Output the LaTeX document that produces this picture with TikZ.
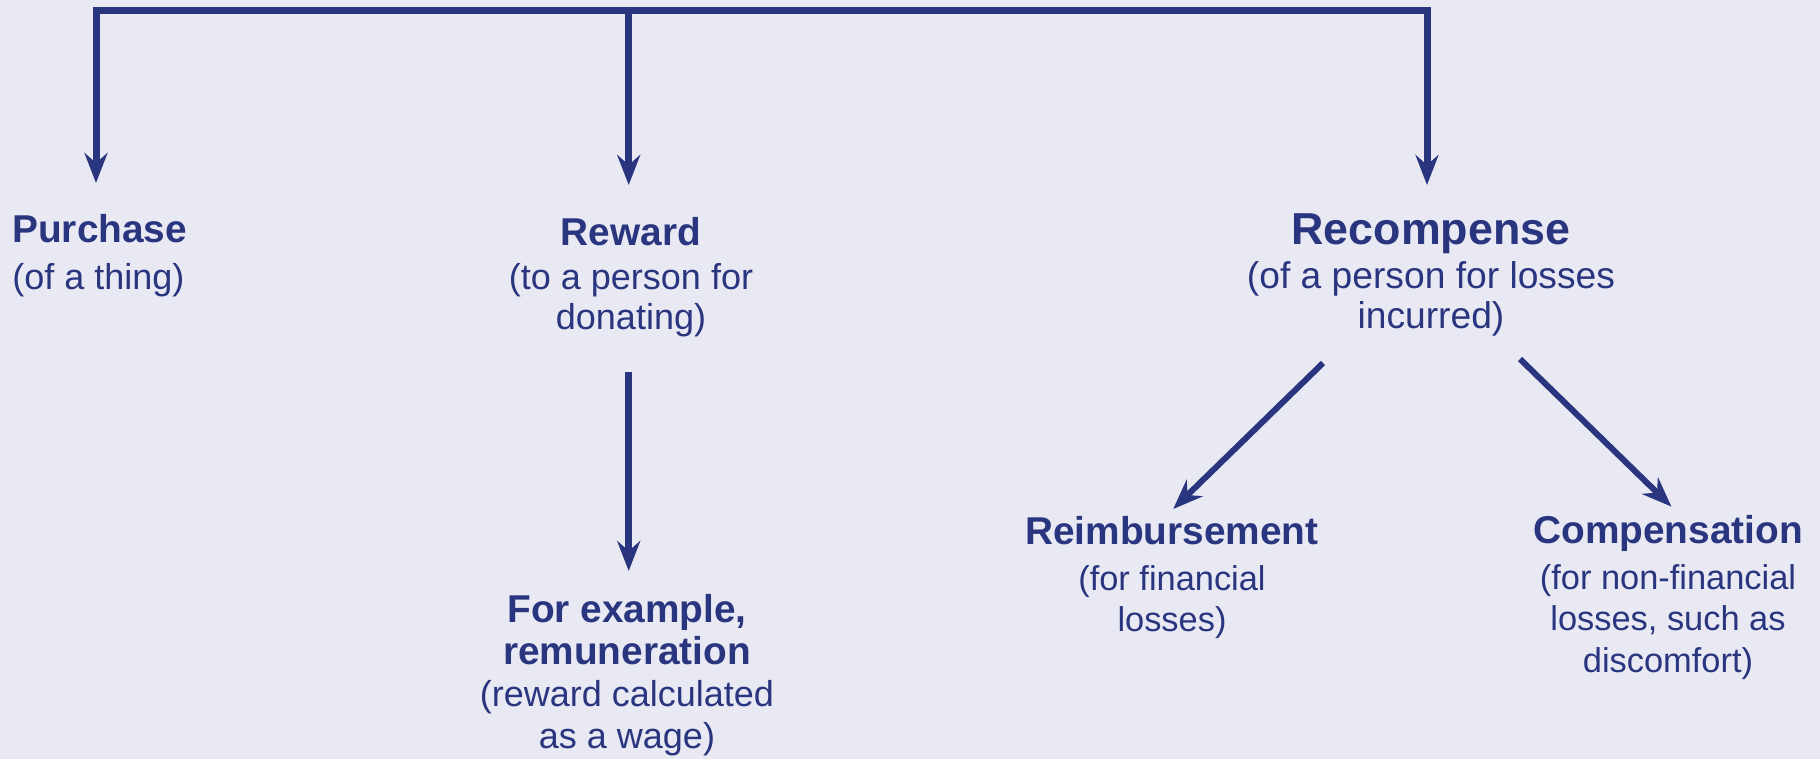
\documentclass[tikz,border=0pt]{standalone}
\usepackage{fontspec}
\setmainfont{Liberation Sans}
\usepackage{tikz}
\usetikzlibrary{arrows.meta,calc}

\definecolor{navy}{RGB}{42,53,128}
\definecolor{paper}{RGB}{232,233,242}
\newcommand{\hfont}{\bfseries\fontsize{19.4}{21}\selectfont}

\begin{document}
\begin{tikzpicture}[x=0.5pt,y=0.5pt,yscale=-1,xscale=1,
  >={Stealth[length=15pt,width=11.5pt,inset=5pt]},
  flow/.style={draw=navy,line width=3.5pt},
  box/.style={text=navy,inner sep=0pt,align=center,font=\fontsize{18}{21}\selectfont}]
%background, sets the size of the diagram
\fill[paper] (0,0) rectangle (1820,759);
\useasboundingbox (0,0) rectangle (1820,759);

% Text Node
\node[box,anchor=north west,align=left] (purchase) at (12,214) {{\hfont Purchase}\\[2.5pt](of a thing)};
% Text Node
\node[box,anchor=north,font=\fontsize{18}{20}\selectfont] (reward) at (631,217) {{\hfont Reward}\\[2pt](to a person for\\donating)};
% Text Node
\node[box,anchor=north] (example) at (627,594) {{\hfont For example,}\\{\hfont remuneration}\\(reward calculated\\as a wage)};
% Text Node
\node[box,anchor=north,font=\fontsize{18.6}{19.7}\selectfont] (recomp) at (1431,213) {{\bfseries\fontsize{22.4}{19.7}\selectfont Recompense}\\[2.5pt](of a person for losses\\incurred)};
% Text Node
\node[box,anchor=north,font=\fontsize{17.2}{20.5}\selectfont] (reimb) at (1172,516) {{\hfont Reimbursement}\\[2.5pt](for financial\\losses)};
% Text Node
\node[box,anchor=north,font=\fontsize{17.2}{20.6}\selectfont] (comp) at (1668,515) {{\hfont Compensation}\\[2.5pt](for non-financial\\losses, such as\\discomfort)};

\coordinate (barL) at (96,11);
\coordinate (barM) at (628.7,11);
\coordinate (barR) at (1427,11);
\coordinate (splitL) at (1323,363);
\coordinate (splitR) at (1520,359);

%Straight Lines, top bar with its two outer arrows
\draw[flow,<->,shorten <=15.5pt,shorten >=14pt] (barL |- purchase.north) -- (barL) -- (barR) -- (barR |- recomp.north);
%Straight Lines
\draw[flow,->,shorten >=16pt] (barM) -- (barM |- reward.north);
%Straight Lines
\draw[flow,->,shorten <=17.5pt,shorten >=11.5pt] (barM |- reward.south) -- (barM |- example.north);
%Straight Lines
\draw[flow,line width=3pt,->,shorten >=5pt] (splitL) -- ([xshift=-3pt]reimb.north);
%Straight Lines
\draw[flow,line width=3pt,->,shorten >=6pt] (splitR) -- ([xshift=6pt]comp.north);

\end{tikzpicture}
\end{document}
